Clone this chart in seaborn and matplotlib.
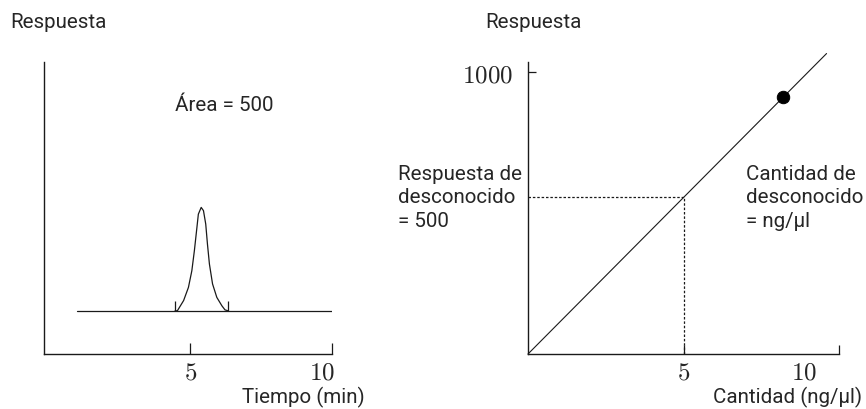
import matplotlib
matplotlib.use("Agg")
import matplotlib.pyplot as plt
import matplotlib.transforms as mtransforms
import seaborn as sns

# chromatogram (left panel)
peak_time = [4.47, 4.55, 4.77, 4.94, 5.06, 5.15, 5.24, 5.29, 5.39, 5.47, 5.55, 5.61, 5.68, 5.79, 5.94, 6.12, 6.23, 6.34]
peak_resp = [1.48, 1.48, 1.83, 2.28, 2.85, 3.54, 4.34, 4.79, 5.02, 4.91, 4.45, 3.77, 3.08, 2.40, 1.94, 1.65, 1.51, 1.48]
baseline_time = [1.0, 10.0]
baseline_resp = [1.48, 1.48]
integ_marks = [4.47, 6.34]
area_label = "Área = 500"

# calibration curve (right panel)
cal_amount = [0, 9.6]
cal_resp = [0, 1065]
std_amount = [8.2]
std_resp = [910]
unk_amount = 5
unk_resp = 555

sns.set_theme(style="white")
plt.rcParams["font.family"] = ["Roboto", "DejaVu Sans"]
plt.rcParams["mathtext.fontset"] = "cm"

fig = plt.figure(figsize=(8.66, 4.10), dpi=100)
W, H = 866, 410
ax1 = fig.add_axes([44 / W, 55 / H, 288 / W, 292 / H])
ax2 = fig.add_axes([528 / W, 55 / H, 311 / W, 292 / H])

ink = "#1a1a1a"
fs = 14.8
tfs = 18

for ax in (ax1, ax2):
    ax.set_facecolor("none")
    for s in ("top", "right"):
        ax.spines[s].set_visible(False)
    for s in ("left", "bottom"):
        ax.spines[s].set_color(ink)
        ax.spines[s].set_linewidth(1.0)

# left: chromatogram
sns.lineplot(x=baseline_time, y=baseline_resp, ax=ax1, color=ink, lw=0.9, estimator=None)
sns.lineplot(x=peak_time, y=peak_resp, ax=ax1, color=ink, lw=0.9, estimator=None)
ax1.vlines(integ_marks, baseline_resp[0], baseline_resp[0] + 0.32, color=ink, lw=0.9)
ax1.text(6.2, 8.56, area_label, ha="center", va="center", fontsize=fs)
ax1.set_xlim(-0.15, 10)
ax1.set_ylim(0, 10)
ax1.set_yticks([])
ax1.set_xticks([5, 10], [r"$5$", r"$10$"])
ax1.tick_params(axis="x", direction="in", length=8, width=0.9, color=ink,
                labelsize=tfs, pad=4, bottom=True)

# right: calibration
sns.lineplot(x=cal_amount, y=cal_resp, ax=ax2, color=ink, lw=0.8, estimator=None)
ax2.lines[-1].set_clip_on(False)
ax2.plot([0, unk_amount], [unk_resp, unk_resp], color=ink, lw=0.9, ls=(0, (2, 1.5)))
ax2.plot([unk_amount, unk_amount], [0, unk_resp], color=ink, lw=0.9, ls=(0, (2, 1.5)))
sns.scatterplot(x=std_amount, y=std_resp, ax=ax2, s=80, color="black",
                edgecolor="black", zorder=5, clip_on=False)
ax2.set_xlim(0, 10)
ax2.set_ylim(0, 1035)
ax2.set_xticks([5, 10], [r"$5$", r"$10$"])
ax2.set_yticks([1000], [r"$1000$"])
ax2.tick_params(axis="x", direction="in", length=6.5, width=0.9, color=ink,
                labelsize=tfs, pad=4, bottom=True)
ax2.tick_params(axis="y", direction="in", length=5.5, width=0.9, color=ink,
                labelsize=tfs, pad=11, left=True)

# the "10" labels sit a little left of their ticks in the original
for ax, dx in ((ax1, -10), (ax2, -35)):
    lab = ax.get_xticklabels()[1]
    lab.set_transform(lab.get_transform() +
                      mtransforms.ScaledTranslation(dx / 100, 0, fig.dpi_scale_trans))

# labels
fig.text(10 / W, 1 - 23 / H, "Respuesta", ha="left", va="center", fontsize=fs)
fig.text(485 / W, 1 - 23 / H, "Respuesta", ha="left", va="center", fontsize=fs)
fig.text(242 / W, 1 - 397 / H, "Tiempo (min)", ha="left", va="center", fontsize=fs)
fig.text(862 / W, 1 - 397 / H, "Cantidad (ng/µl)", ha="right", va="center", fontsize=fs)
fig.text(398 / W, 1 - 198 / H, "Respuesta de\ndesconocido\n= 500", ha="left",
         va="center", fontsize=fs, linespacing=1.3)
fig.text(746 / W, 1 - 198 / H, "Cantidad de\ndesconocido\n= ng/µl", ha="left",
         va="center", fontsize=fs, linespacing=1.3)

fig.savefig("out.png", dpi=100)
